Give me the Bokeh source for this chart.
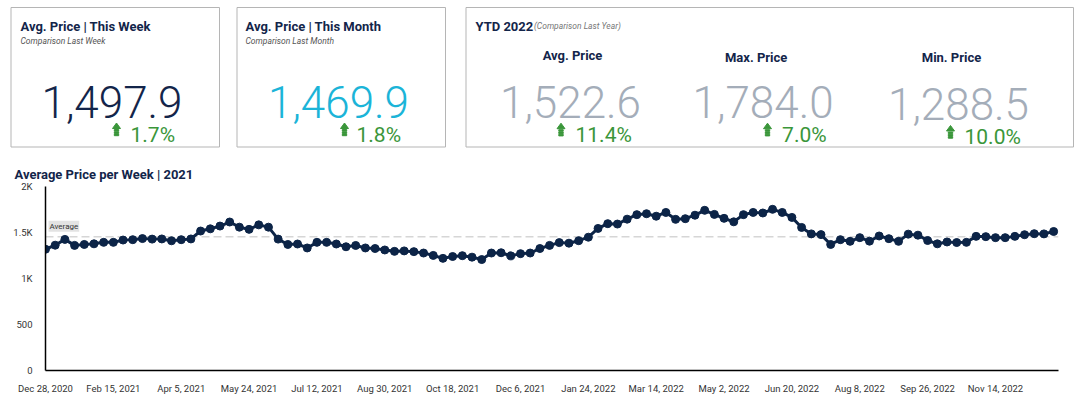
import numpy as np
import pandas as pd
from bokeh.plotting import figure
from bokeh.models import Range1d, FixedTicker, Label, Span
from bokeh.core.properties import value
from bokeh.embed import file_html
from bokeh.resources import INLINE

# ---------------- data ----------------
start_date = "2020-12-28"
weekly_price = [
    1318, 1362, 1425, 1360, 1370, 1377, 1393, 1393, 1418, 1422,
    1434, 1428, 1430, 1410, 1422, 1430, 1516, 1540, 1570, 1614,
    1558, 1534, 1583, 1558, 1428, 1370, 1375, 1332, 1393, 1393,
    1375, 1345, 1359, 1332, 1326, 1310, 1295, 1300, 1292, 1277,
    1251, 1219, 1239, 1248, 1232, 1206, 1277, 1280, 1246, 1270,
    1277, 1326, 1360, 1390, 1384, 1411, 1449, 1544, 1596, 1592,
    1645, 1694, 1704, 1677, 1718, 1643, 1650, 1688, 1741, 1697,
    1654, 1616, 1694, 1718, 1712, 1752, 1718, 1664, 1555, 1485,
    1477, 1370, 1422, 1404, 1444, 1406, 1462, 1433, 1404, 1482,
    1471, 1413, 1377, 1397, 1391, 1393, 1458, 1455, 1444, 1444,
    1458, 1476, 1487, 1485, 1511,
]
x_tick_labels = [
    "Dec 28, 2020", "Feb 15, 2021", "Apr 5, 2021", "May 24, 2021",
    "Jul 12, 2021", "Aug 30, 2021", "Oct 18, 2021", "Dec 6, 2021",
    "Jan 24, 2022", "Mar 14, 2022", "May 2, 2022", "Jun 20, 2022",
    "Aug 8, 2022", "Sep 26, 2022", "Nov 14, 2022",
]
y_ticks = [0, 500, 1000, 1500, 2000]
y_tick_labels = ["0", "500", "1K", "1.5K", "2K"]
chart_title = "Average Price per Week | 2021"

week_titles = ["Avg. Price | This Week", "Avg. Price | This Month"]
week_subtitles = ["Comparison Last Week", "Comparison Last Month"]
week_values = [1497.9, 1469.9]
week_changes = [1.7, 1.8]

ytd_title = "YTD 2022"
ytd_subtitle = "(Comparison Last Year)"
ytd_labels = ["Avg. Price", "Max. Price", "Min. Price"]
ytd_values = [1522.6, 1784.0, 1288.5]
ytd_changes = [11.4, 7.0, 10.0]

# ---------------- styles ----------------
NAVY = "#13254a"
LINE = "#0c2447"
CYAN = "#1bb4d8"
GRAY_NUM = "#a4adb9"
GREEN = "#3a963a"
SUB = "#555555"
FONT = value("Roboto")
LIGHT = value("Roboto Light")

W = 1075
# ---------------- KPI cards ----------------
H = 148
cards = figure(width=W, height=H, x_range=Range1d(0, W), y_range=Range1d(H, 0),
               x_axis_type=None, y_axis_type=None, toolbar_location=None,
               output_backend="svg", min_border=0, outline_line_color=None)
cards.grid.visible = False

cards.quad(left=[10.5, 236.5, 465.5], right=[219, 445, 1073], top=[7] * 3,
           bottom=[146.5] * 3, fill_color="white", line_color="#b5b5b5", line_width=1)


def arrow(c, t):
    cards.patch([c - 4, c + 4, c], [t + 5.5, t + 5.5, t], color=GREEN)
    tops = [t + 6.5, t + 8.8, t + 11.1]
    cards.quad(left=[c - 2.2] * 3, right=[c + 2.2] * 3, top=tops,
               bottom=[v + 1.6 for v in tops], color=GREEN)


# two small cards
title_x = [20, 245]
cards.text(x=title_x, y=[25.5, 25.5], text=week_titles, text_font=FONT,
           text_font_style="bold", text_font_size="13px", text_color=NAVY,
           text_baseline="alphabetic")
cards.text(x=title_x, y=[40, 40], text=week_subtitles, text_font=FONT,
           text_font_style="italic", text_font_size="8.5px", text_color=SUB,
           text_baseline="alphabetic")
cards.text(x=[111.5, 338], y=[101.7, 101.7], text=[f"{v:,.1f}" for v in week_values],
           text_font=LIGHT, text_font_size="44px", text_color=[NAVY, CYAN],
           text_align="center", text_baseline="alphabetic")
cards.text(x=[130, 356], y=[134.3, 134.3], text=[f"{v:.1f}%" for v in week_changes],
           text_font=FONT, text_font_size="21px", text_color=GREEN,
           text_baseline="alphabetic")
for c in [116, 344]:
    arrow(c, 122.5)

# YTD card
cards.text(x=[475], y=[25.7], text=[ytd_title], text_font=FONT,
           text_font_style="bold", text_font_size="13px", text_color=NAVY,
           text_baseline="alphabetic")
cards.text(x=[533.5], y=[25.5], text=[ytd_subtitle], text_font=FONT,
           text_font_style="italic", text_font_size="8.5px", text_color="#777777",
           text_baseline="alphabetic")
cards.text(x=[572, 755.6, 951], y=[55, 56.7, 56.7], text=ytd_labels, text_font=FONT,
           text_font_style="bold", text_font_size="13px", text_color=NAVY,
           text_align="center", text_baseline="alphabetic")
cards.text(x=[570, 762.6, 958], y=[101.7, 101.7, 103.3], text=[f"{v:,.1f}" for v in ytd_values],
           text_font=LIGHT, text_font_size="44px", text_color=GRAY_NUM,
           text_align="center", text_baseline="alphabetic")
cards.text(x=[575, 781.6, 964], y=[134, 134, 136.5], text=[f"{v:.1f}%" for v in ytd_changes],
           text_font=FONT, text_font_size="21px", text_color=GREEN,
           text_baseline="alphabetic")
for c, t in zip([560.5, 767, 950], [122.7, 122.7, 125]):
    arrow(c, t)

# ---------------- weekly line chart ----------------
start = pd.Timestamp(start_date)
dates = start + pd.to_timedelta(np.arange(len(weekly_price)) * 7, unit="D")
week_idx = ((dates - start).days / 7).to_numpy()
tick_pos = ((pd.to_datetime(x_tick_labels, format="%b %d, %Y") - start).days / 7).to_numpy()

p = figure(width=W, height=250, x_range=Range1d(0, week_idx[-1] + 0.5),
           y_range=Range1d(0, 2000), toolbar_location=None, output_backend="svg",
           min_border_left=45, min_border_right=W - 1058, min_border_top=38,
           min_border_bottom=28, outline_line_color=None, title=chart_title)
p.grid.visible = False
p.title.align = "left"
p.title.offset = -31
p.title.standoff = 9
p.title.text_font = "Roboto"
p.title.text_font_style = "bold"
p.title.text_font_size = "13px"
p.title.text_color = NAVY

avg = float(np.mean(weekly_price))
p.add_layout(Span(location=avg, dimension="width", line_color="#d6d6d6",
                  line_dash="8 4", line_width=1.5, level="underlay"))
p.line(week_idx, weekly_price, line_color=LINE, line_width=3)
p.scatter(week_idx, weekly_price, size=8, color=LINE)

p.add_layout(Label(x=0, y=avg, x_offset=3, y_offset=5, text="Average",
                   text_font="Roboto", text_font_size="8px", text_color="#333333",
                   text_baseline="bottom", background_fill_color="#e3e3e3",
                   padding=1))

xa = p.xaxis[0]
xa.ticker = FixedTicker(ticks=list(tick_pos))
xa.major_label_overrides = {float(t): s for t, s in zip(tick_pos, x_tick_labels)}
ya = p.yaxis[0]
ya.ticker = FixedTicker(ticks=y_ticks)
ya.major_label_overrides = {t: s for t, s in zip(y_ticks, y_tick_labels)}
for ax in (xa, ya):
    ax.axis_line_color = "black"
    ax.axis_line_width = 1.5
    ax.major_tick_line_color = None
    ax.minor_tick_line_color = None
    ax.major_label_text_font = "Roboto"
    ax.major_label_text_font_size = "9.5px"
    ax.major_label_text_color = "#333333"
xa.major_label_standoff = 6
ya.major_label_standoff = 7

open("out.html", "w").write(file_html([cards, p], INLINE))
